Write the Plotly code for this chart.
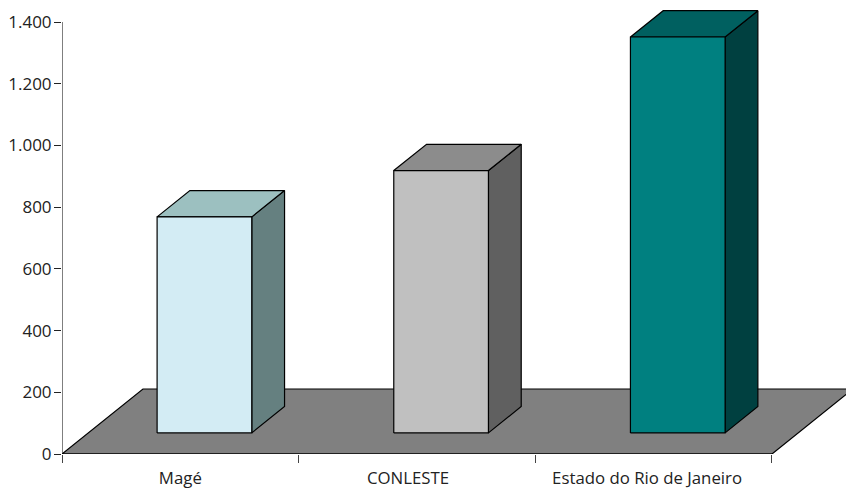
import plotly.graph_objects as go

categories = ["Magé", "CONLESTE", "Estado do Rio de Janeiro"]
values = [700, 850, 1283]
y_ticks = [0, 200, 400, 600, 800, 1000, 1200, 1400]
y_labels = ["0", "200", "400", "600", "800", "1.000", "1.200", "1.400"]
front_colors = ["#D3ECF4", "#C0C0C0", "#008080"]
top_colors = ["#9CC0C0", "#8C8C8C", "#006060"]
side_colors = ["#658080", "#606060", "#004040"]

FLOOR_COLOR = "#808080"
LINE_COLOR = "#000000"
TEXT_COLOR = "#222222"
FONT = "Open Sans"

# Oblique projection: the full depth of the floor shifts a point right and up.
DEPTH_X = 0.342
DEPTH_Y = 210.6
BAR_WIDTH = 0.40
BAR_SHIFT = -0.0093
BAR_DEPTH_START = 0.325
BAR_DEPTH_END = 0.73
X_MAX = 3.3127
Y_MAX = 1471.3
# Category labels sit slightly left of the true slot centre on the later slots
LABEL_NUDGE = [0.0, -0.038, -0.028]


def project(x, y, depth):
    return x + depth * DEPTH_X, y + depth * DEPTH_Y


def polygon(corners, fill):
    xs = [c[0] for c in corners] + [corners[0][0]]
    ys = [c[1] for c in corners] + [corners[0][1]]
    return go.Scatter(
        x=xs, y=ys, mode="lines", fill="toself", fillcolor=fill,
        line=dict(color=LINE_COLOR, width=1.2), cliponaxis=False,
        hoverinfo="skip", showlegend=False,
    )


fig = go.Figure()

# Floor of the 3D scene
n = len(categories)
fig.add_trace(polygon(
    [project(0, 0, 0), project(n, 0, 0), project(n, 0, 1), project(0, 0, 1)],
    FLOOR_COLOR,
))

# Each bar is three faces: side, top, front
for i, value in enumerate(values):
    left = i + 0.5 - BAR_WIDTH / 2 + BAR_SHIFT
    right = i + 0.5 + BAR_WIDTH / 2 + BAR_SHIFT
    d0, d1 = BAR_DEPTH_START, BAR_DEPTH_END
    fig.add_trace(polygon(
        [project(right, 0, d0), project(right, 0, d1),
         project(right, value, d1), project(right, value, d0)],
        side_colors[i],
    ))
    fig.add_trace(polygon(
        [project(left, value, d0), project(right, value, d0),
         project(right, value, d1), project(left, value, d1)],
        top_colors[i],
    ))
    fig.add_trace(polygon(
        [project(left, 0, d0), project(right, 0, d0),
         project(right, value, d0), project(left, value, d0)],
        front_colors[i],
    ))

# Value axis line stops at the last tick
fig.add_trace(go.Scatter(
    x=[0, 0], y=[0, y_ticks[-1]], mode="lines",
    line=dict(color=LINE_COLOR, width=1), cliponaxis=False,
    hoverinfo="skip", showlegend=False,
))
# Category axis line stops at the last boundary tick
fig.add_trace(go.Scatter(
    x=[0, n], y=[0, 0], mode="lines",
    line=dict(color=LINE_COLOR, width=1.2), cliponaxis=False,
    hoverinfo="skip", showlegend=False,
))

fig.update_layout(
    width=846, height=488,
    margin=dict(l=62, r=0, t=0, b=34),
    paper_bgcolor="white", plot_bgcolor="white",
    font=dict(family=FONT, size=17, color=TEXT_COLOR),
    showlegend=False,
    xaxis=dict(
        range=[0, X_MAX], showgrid=False, zeroline=False, showline=False, automargin=False,
        tickmode="array", tickvals=[i + 0.5 + LABEL_NUDGE[i] for i in range(n)], ticktext=categories,
        ticks="outside", ticklen=9, tickcolor="rgba(0,0,0,0)", tickfont=dict(size=16.8),
        minor=dict(tickmode="array", tickvals=list(range(n + 1)), ticks="outside",
                   ticklen=8, tickcolor="#444444", tickwidth=1, showgrid=False),
    ),
    yaxis=dict(
        range=[0, Y_MAX], showgrid=False, zeroline=False, showline=False, automargin=False,
        tickmode="array", tickvals=y_ticks, ticktext=y_labels,
        ticks="outside", ticklen=7, tickcolor="#222222", tickwidth=1, ticklabelstandoff=-1,
    ),
)

fig.write_html("out.html")
